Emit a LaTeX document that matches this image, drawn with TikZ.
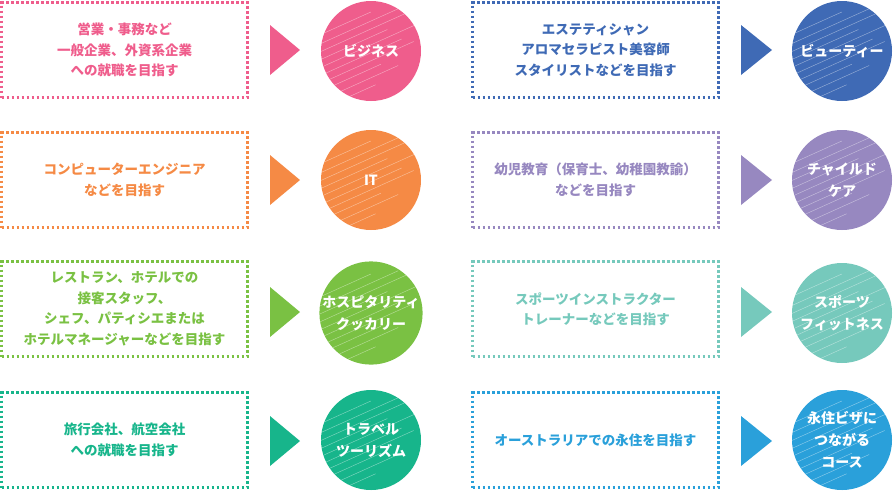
\documentclass[tikz,border=0pt]{standalone}
\usepackage{fontspec}
\setmainfont{Noto Sans CJK JP}
\usepackage{xcolor}
\usepackage{tikz}
\usetikzlibrary{positioning}

\definecolor{bizpink}{HTML}{EF5D8C}
\definecolor{itorange}{HTML}{F58A45}
\definecolor{hospgreen}{HTML}{7AC143}
\definecolor{travelteal}{HTML}{17B58B}
\definecolor{beautyblue}{HTML}{3F6AB5}
\definecolor{childpurple}{HTML}{9788C0}
\definecolor{sportmint}{HTML}{76C9BC}
\definecolor{visablue}{HTML}{2AA0DA}

\begin{document}
\begin{tikzpicture}[
    x=1pt, y=-1pt,
    goal/.style={rectangle, draw=#1, text=#1, line width=2.6pt,
      dash pattern=on 2.6pt off 2.4pt, minimum width=246, minimum height=95,
      inner sep=0pt, align=center, font=\bfseries\fontsize{13.5}{20.5}\selectfont},
    course/.style={circle, fill=#1, minimum size=100, inner sep=0pt,
      text=white, align=center, font=\bfseries\fontsize{14}{22}\selectfont,
      path picture={
        \foreach \o/\l in {-34/60, -26/85, -19/95, -12/70, -5/100, 2/80, 9/90, 16/55, 24/70, 32/45}
          \draw[white, opacity=.45, line width=.45pt]
            ([shift={(-50+0.3*\o,\o+22)}]path picture bounding box.center) -- ++(\l,-0.45*\l);
      }},
    pointer/.style={fill=#1}
  ]
  \useasboundingbox (0,0) rectangle (893,491);

  % left column
  \node[goal=bizpink] (biz) at (124.5,50) {営業・事務など\\一般企業、外資系企業\\への就職を目指す};
  \node[goal=itorange] (it) at (124.5,180) {コンピューターエンジニア\\などを目指す};
  \node[goal=hospgreen] (hosp) at (124.5,309) {レストラン、ホテルでの\\接客スタッフ、\\シェフ、パティシエまたは\\ホテルマネージャーなどを目指す};
  \node[goal=travelteal] (travel) at (124.5,440) {旅行会社、航空会社\\への就職を目指す};

  \node[course=bizpink] (bizc) at (371,51) {ビジネス};
  \node[course=itorange] (itc) at (371,180) {IT};
  \node[course=hospgreen] (hospc) at (371,313) {ホスピタリティ\\クッカリー};
  \node[course=travelteal] (travelc) at (371,440) {トラベル\\ツーリズム};

  \fill[pointer=bizpink] (270,25) -- (300,50) -- (270,75) -- cycle;
  \fill[pointer=itorange] (270,155) -- (300,180) -- (270,205) -- cycle;
  \fill[pointer=hospgreen] (270,287) -- (300,312) -- (270,337) -- cycle;
  \fill[pointer=travelteal] (270,416) -- (300,441) -- (270,466) -- cycle;

  % right column
  \node[goal=beautyblue] (beauty) at (595.5,50) {エステティシャン\\アロマセラピスト美容師\\スタイリストなどを目指す};
  \node[goal=childpurple] (child) at (595.5,180) {幼児教育（保育士、幼稚園教諭）\\などを目指す};
  \node[goal=sportmint] (sport) at (595.5,309) {スポーツインストラクター\\トレーナーなどを目指す};
  \node[goal=visablue] (visa) at (595.5,440) {オーストラリアでの永住を目指す};

  \node[course=beautyblue] (beautyc) at (842,51) {ビューティー};
  \node[course=childpurple] (childc) at (842,180) {チャイルド\\ケア};
  \node[course=sportmint] (sportc) at (842,313) {スポーツ\\フィットネス};
  \node[course=visablue] (visac) at (842,440) {永住ビザに\\つながる\\コース};

  \fill[pointer=beautyblue] (741,25) -- (772,50) -- (741,75) -- cycle;
  \fill[pointer=childpurple] (741,155) -- (772,180) -- (741,205) -- cycle;
  \fill[pointer=sportmint] (741,287) -- (772,312) -- (741,337) -- cycle;
  \fill[pointer=visablue] (741,416) -- (772,441) -- (741,466) -- cycle;
\end{tikzpicture}
\end{document}
